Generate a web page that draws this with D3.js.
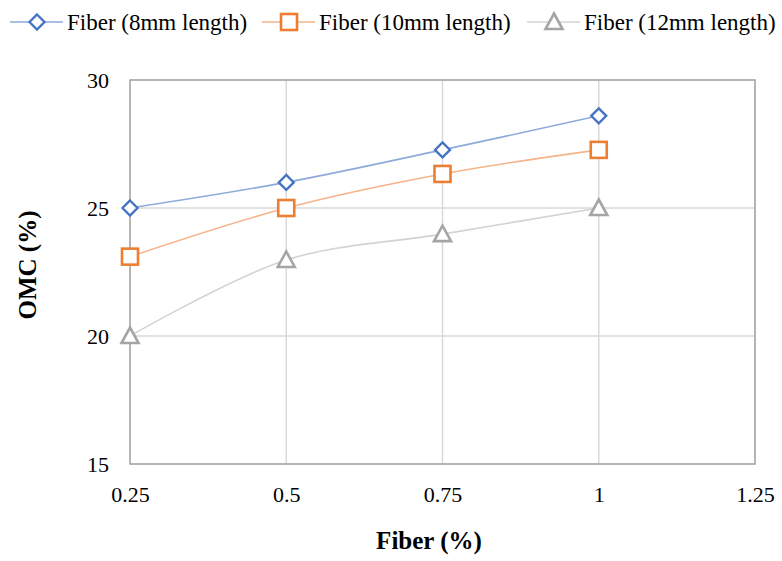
<!DOCTYPE html>
<html>
<head>
<meta charset="utf-8">
<script src="https://cdn.jsdelivr.net/npm/d3@7"></script>
<style>
  body { margin: 0; background: #fff; }
  svg text { font-family: "Liberation Serif", "Times New Roman", serif; fill: #000; }
</style>
</head>
<body>
<svg width="782" height="561"></svg>
<script>
// chart data
const fiber = [0.25, 0.5, 0.75, 1];
const omc8 = [25, 26, 27.27, 28.6];
const omc10 = [23.1, 25, 26.33, 27.27];
const omc12 = [20, 22.97, 23.98, 25];
const xTicks = [0.25, 0.5, 0.75, 1, 1.25];
const yTicks = [15, 20, 25, 30];
const seriesNames = ["Fiber (8mm length)", "Fiber (10mm length)", "Fiber (12mm length)"];

const series = [
  { name: seriesNames[0], values: omc8, marker: "diamond", stroke: "#4472c4", line: "#8eaadb" },
  { name: seriesNames[1], values: omc10, marker: "square", stroke: "#ed7d31", line: "#f5b38a" },
  { name: seriesNames[2], values: omc12, marker: "triangle", stroke: "#a5a5a5", line: "#d3d3d3" },
];

const svg = d3.select("svg");
const plotLeft = 130, plotRight = 755, plotTop = 80, plotBottom = 464;

const x = d3.scaleLinear().domain([0.25, 1.25]).range([plotLeft, plotRight]);
const y = d3.scaleLinear().domain([15, 30]).range([plotBottom, plotTop]);

// grid
svg.append("g")
  .selectAll("line")
  .data(xTicks)
  .enter()
  .append("line")
  .attr("x1", (d) => x(d))
  .attr("x2", (d) => x(d))
  .attr("y1", plotTop)
  .attr("y2", plotBottom)
  .attr("stroke", "#d9d9d9")
  .attr("stroke-width", 1.5);

svg.append("g")
  .selectAll("line")
  .data(yTicks)
  .enter()
  .append("line")
  .attr("x1", plotLeft)
  .attr("x2", plotRight)
  .attr("y1", (d) => y(d))
  .attr("y2", (d) => y(d))
  .attr("stroke", "#d9d9d9")
  .attr("stroke-width", 1.5);

// plot frame
svg.append("rect")
  .attr("x", plotLeft)
  .attr("y", plotTop)
  .attr("width", plotRight - plotLeft)
  .attr("height", plotBottom - plotTop)
  .attr("fill", "none")
  .attr("stroke", "#a6a6a6")
  .attr("stroke-width", 1.5);

// axes labels
const xAxis = d3.axisBottom(x).tickValues(xTicks).tickSize(0).tickPadding(22)
  .tickFormat((d) => String(d));
const gx = svg.append("g").attr("transform", `translate(0,${plotBottom})`).call(xAxis);
gx.select(".domain").remove();
gx.attr("font-family", null);
gx.selectAll("text").style("font-size", "22px");

const yAxis = d3.axisLeft(y).tickValues(yTicks).tickSize(0).tickPadding(21);
const gy = svg.append("g").attr("transform", `translate(${plotLeft},0)`).call(yAxis);
gy.select(".domain").remove();
gy.attr("font-family", null);
gy.selectAll("text").style("font-size", "22px");

svg.append("text")
  .attr("x", 429)
  .attr("y", 549)
  .attr("text-anchor", "middle")
  .style("font-size", "25px")
  .style("font-weight", "bold")
  .text("Fiber (%)");

svg.append("text")
  .attr("transform", "translate(36,265) rotate(-90)")
  .attr("text-anchor", "middle")
  .style("font-size", "25px")
  .style("font-weight", "bold")
  .text("OMC (%)");

// markers
function drawMarker(g, type, color) {
  if (type === "diamond") {
    g.append("path").attr("d", "M0,-7.5L7.5,0L0,7.5L-7.5,0Z")
      .attr("fill", "#fff").attr("stroke", color).attr("stroke-width", 2.3);
  } else if (type === "square") {
    g.append("rect").attr("x", -8).attr("y", -8).attr("width", 16).attr("height", 16)
      .attr("fill", "#fff").attr("stroke", color).attr("stroke-width", 2.6);
  } else {
    g.append("path").attr("d", "M0,-8.5L8.5,7L-8.5,7Z")
      .attr("fill", "#fff").attr("stroke", color).attr("stroke-width", 2.6);
  }
}

const line = d3.line()
  .x((d, i) => x(fiber[i]))
  .y((d) => y(d))
  .curve(d3.curveCatmullRom.alpha(0.5));

series.forEach((s) => {
  svg.append("path")
    .attr("d", line(s.values))
    .attr("fill", "none")
    .attr("stroke", s.line)
    .attr("stroke-width", 1.6);
});

series.forEach((s) => {
  s.values.forEach((v, i) => {
    const g = svg.append("g").attr("transform", `translate(${x(fiber[i])},${y(v)})`);
    drawMarker(g, s.marker, s.stroke);
  });
});

// legend
const legendX = [10, 262, 527];
series.forEach((s, i) => {
  const g = svg.append("g").attr("transform", `translate(${legendX[i]},22)`);
  g.append("line").attr("x1", 0).attr("x2", 53).attr("y1", 0).attr("y2", 0)
    .attr("stroke", s.line).attr("stroke-width", 1.6);
  const m = g.append("g").attr("transform", "translate(27,0)");
  drawMarker(m, s.marker, s.stroke);
  g.append("text")
    .attr("x", 57)
    .attr("y", 7.5)
    .style("font-size", "23px")
    .text(s.name);
});
</script>
</body>
</html>
